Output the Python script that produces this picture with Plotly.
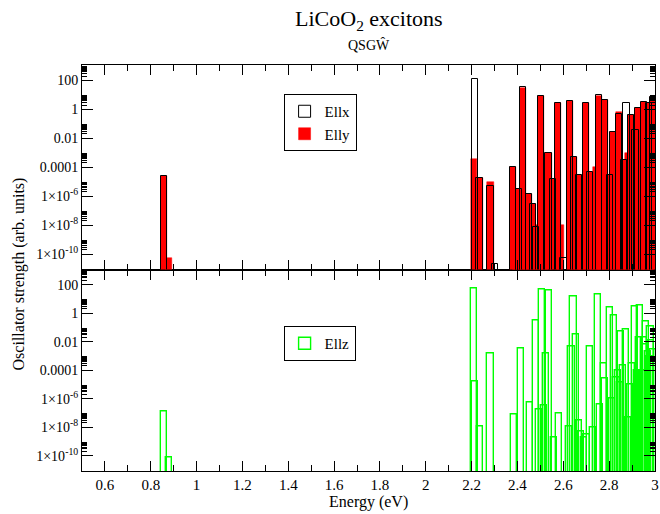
import plotly.graph_objects as go

# ---- data (energies in eV, oscillator strengths arb. units) ----
ellx_energy = [0.857, 2.215, 2.234, 2.282, 2.303, 2.381, 2.407, 2.425, 2.450, 2.468,
               2.482, 2.504, 2.535, 2.555, 2.576, 2.601, 2.629, 2.645, 2.670, 2.699,
               2.717, 2.757, 2.782, 2.803, 2.818, 2.843, 2.865, 2.876, 2.897, 2.915,
               2.926, 2.951, 2.973, 2.990]
ellx_strength = [2.4e-5, 120, 1.9e-5, 4.7e-6, 2e-11, 1e-4, 3e-6, 35, 1.4e-6, 3e-7,
                 7e-9, 8.5, 1e-3, 1.6e-5, 2.6, 5e-11, 4, 5e-4, 2.7e-5, 2.6,
                 4.5e-5, 10, 4.5, 2.7e-5, 0.028, 0.5, 3e-4, 3, 0.4, 0.037,
                 1.2, 3.5, 2.6, 7.8]

elly_energy = [0.857, 0.880, 2.212, 2.234, 2.282, 2.381, 2.395, 2.407, 2.425, 2.438,
               2.450, 2.468, 2.482, 2.494, 2.504, 2.520, 2.535, 2.555, 2.576, 2.588,
               2.629, 2.645, 2.658, 2.670, 2.684, 2.699, 2.717, 2.730, 2.745, 2.757,
               2.765, 2.782, 2.792, 2.803, 2.818, 2.830, 2.843, 2.855, 2.865, 2.882,
               2.897, 2.906, 2.915, 2.926, 2.940, 2.951, 2.962, 2.973, 2.982, 2.990]
elly_strength = [2.4e-5, 5e-11, 4e-4, 1.9e-5, 9e-6, 1e-4, 1e-6, 3e-6, 30, 5e-7,
                 1.4e-6, 3e-7, 7e-9, 1e-8, 8.5, 1e-5, 1e-3, 1.6e-5, 2.6, 1e-8,
                 4, 5e-4, 1e-5, 2.7e-5, 1e-6, 2.6, 4.5e-5, 1e-7, 1e-4, 8,
                 3e-4, 4.5, 1e-6, 2.7e-5, 0.028, 1e-4, 0.7, 1e-5, 3e-4, 1e-3,
                 0.4, 1e-4, 0.037, 1.2, 1e-2, 3.5, 1e-3, 2.6, 1e-2, 7.8]

ellz_energy = [0.857, 0.878, 2.212, 2.216, 2.237, 2.282, 2.384, 2.414, 2.453, 2.480,
               2.494, 2.506, 2.517, 2.526, 2.538, 2.560, 2.580, 2.625, 2.636, 2.644,
               2.654, 2.667, 2.678, 2.690, 2.701, 2.716, 2.728, 2.750, 2.760, 2.776,
               2.782, 2.804, 2.812, 2.821, 2.832, 2.840, 2.846, 2.851, 2.862, 2.873,
               2.881, 2.890, 2.900, 2.912, 2.921, 2.930, 2.934, 2.945, 2.952, 2.958,
               2.962, 2.970, 2.976, 2.980, 2.984, 2.990, 2.995]
ellz_strength = [1.3e-7, 7e-11, 58, 1.5e-5, 1.2e-8, 1.6e-3, 7.4e-8, 3.5e-3, 5.7e-7, 0.3,
                 1.7e-7, 45, 3.4e-7, 1.6e-3, 40, 1.9e-9, 1e-7, 1.1e-8, 4.7e-3, 15,
                 0.034, 2.8e-8, 5e-9, 2e-9, 3.3e-9, 4.7e-3, 1e-8, 19.5, 4.2e-7, 2.8e-4,
                 2.8e-5, 2.6, 1e-6, 0.7, 3e-5, 1e-4, 1.3e-5, 0.052, 2e-4, 0.07,
                 4.9e-8, 1e-5, 3e-4, 3, 1e-4, 0.02, 3.5, 1e-4, 2e-2, 6.3e-3,
                 0.26, 2e-3, 1e-3, 0.12, 0.012, 3e-3, 4e-4]

x_range = [0.5, 3.0]
log_range = [-11.07, 3.07]
y_tickvals = [100, 1, 0.01, 1e-4, 1e-6, 1e-8, 1e-10]
y_ticktext = ["100", "1", "0.01", "0.0001", "1×10<sup>-6</sup>", "1×10<sup>-8</sup>",
              "1×10<sup>-10</sup>"]
y_minorvals = [m * 10.0 ** k for k in range(-12, 4, 2) for m in range(2, 10)]

FONT = "Liberation Serif"
BAR_W = 0.027
BASE = 1e-13

W, H = 660, 514
L, R, T, B = 82, 1, 65, 43
PW, PH = W - L - R, H - T - B


def fx(px):
    return (px - L) / PW


def fy(py):
    return (T + PH - py) / PH


fig = go.Figure()

fig.add_trace(go.Bar(
    x=elly_energy, y=elly_strength, base=BASE, width=BAR_W, name="Elly",
    marker=dict(color="#ff0000", line=dict(color="#ff0000", width=0.5)),
    xaxis="x2", yaxis="y2", legend="legend", legendrank=2))
fig.add_trace(go.Bar(
    x=ellx_energy, y=ellx_strength, base=BASE, width=BAR_W, name="Ellx",
    marker=dict(color="rgba(0,0,0,0)", line=dict(color="black", width=1.0)),
    xaxis="x2", yaxis="y2", legend="legend", legendrank=1))
fig.add_trace(go.Bar(
    x=ellz_energy, y=ellz_strength, base=BASE, width=BAR_W, name="Ellz",
    marker=dict(color="rgba(0,0,0,0)", line=dict(color="#00ff00", width=1.4)),
    xaxis="x", yaxis="y", legend="legend2"))

xcommon = dict(range=x_range, dtick=0.2, tick0=0, ticks="inside", ticklen=10,
               tickcolor="black", tickwidth=1, linecolor="black", linewidth=1,
               mirror="ticks", showgrid=False, zeroline=False,
               ticklabeloverflow="allow",
               minor=dict(dtick=0.1, tick0=0, ticks="inside", ticklen=6,
                          tickcolor="black", tickwidth=1),
               tickfont=dict(family=FONT, size=15, color="black"))
ycommon = dict(type="log", range=log_range, tickmode="array", tickvals=y_tickvals,
               ticktext=y_ticktext, ticks="inside", ticklen=11, tickcolor="black",
               tickwidth=1, linecolor="black", linewidth=1, mirror="ticks",
               showgrid=False, zeroline=False,
               minor=dict(tickmode="array", tickvals=y_minorvals, ticks="inside",
                          ticklen=5, tickcolor="black", tickwidth=1),
               tickfont=dict(family=FONT, size=14, color="black"))

split = fy(269.5)

fig.update_layout(
    width=W, height=H,
    margin=dict(l=L, r=R, t=T, b=B),
    paper_bgcolor="white", plot_bgcolor="white",
    barmode="overlay", bargap=0,
    font=dict(family=FONT, color="black"),
    xaxis=dict(xcommon, anchor="y"),
    yaxis=dict(ycommon, domain=[0, split], anchor="x"),
    xaxis2=dict(xcommon, anchor="y2", matches="x", showticklabels=False),
    yaxis2=dict(ycommon, domain=[split, 1], anchor="x2"),
    legend=dict(x=fx(285), y=fy(94), xanchor="left", yanchor="top",
                bgcolor="white", bordercolor="black", borderwidth=1,
                font=dict(family=FONT, size=15, color="black"), itemwidth=30),
    legend2=dict(x=fx(285), y=fy(326), xanchor="left", yanchor="top",
                 bgcolor="white", bordercolor="black", borderwidth=1,
                 font=dict(family=FONT, size=15, color="black"), itemwidth=30),
    showlegend=True,
    annotations=[
        dict(text="LiCoO<sub>2</sub> excitons", xref="paper", yref="paper",
             x=fx(371), y=fy(20), xanchor="center", yanchor="middle",
             showarrow=False, font=dict(family=FONT, size=22, color="black")),
        dict(text="QSGŴ", xref="paper", yref="paper",
             x=fx(371), y=fy(45), xanchor="center", yanchor="middle",
             showarrow=False, font=dict(family=FONT, size=14, color="black")),
        dict(text="Oscillator strength (arb. units)", xref="paper", yref="paper",
             x=fx(19), y=fy(274), xanchor="center", yanchor="middle",
             textangle=-90, showarrow=False, font=dict(family=FONT, size=16, color="black")),
        dict(text="Energy (eV)", xref="paper", yref="paper",
             x=fx(371), y=fy(502), xanchor="center", yanchor="middle",
             showarrow=False, font=dict(family=FONT, size=16, color="black")),
    ],
)

fig.write_html(
    "out.html",
    config={"displayModeBar": False},
    post_script="document.body.style.margin='0';"
                "document.documentElement.style.overflow='hidden';"
                "document.body.style.overflow='hidden';",
)
